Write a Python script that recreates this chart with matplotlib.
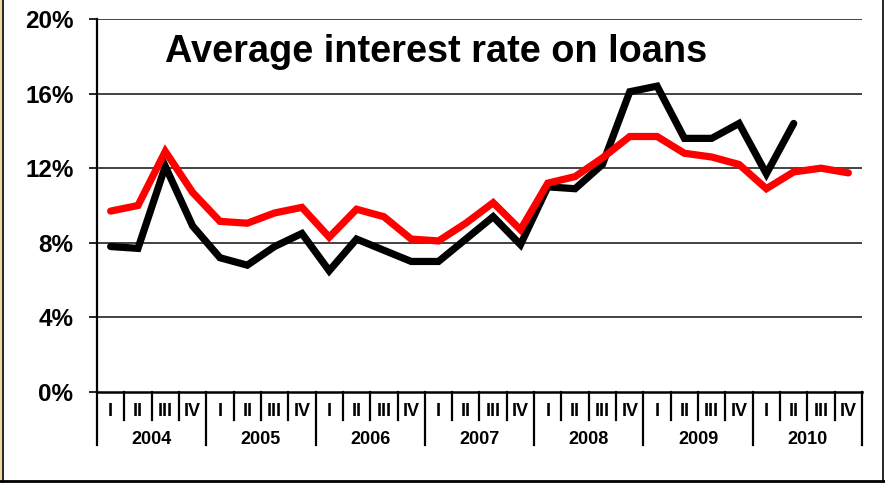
import matplotlib
matplotlib.use("Agg")
import matplotlib.pyplot as plt
import matplotlib.transforms as mtransforms
from matplotlib.lines import Line2D
from matplotlib.patches import Rectangle

plt.rcParams['font.family'] = ['Liberation Sans', 'DejaVu Sans']
plt.rcParams['font.weight'] = 'bold'

# quarterly data, 2004 I .. 2010 IV
years = ['2004', '2005', '2006', '2007', '2008', '2009', '2010']
quarters = ['I', 'II', 'III', 'IV']

# black series (ends at 2010 II)
rate_black = [7.8, 7.7, 12.1, 8.9,
              7.2, 6.8, 7.8, 8.5,
              6.5, 8.2, 7.6, 7.0,
              7.0, 8.2, 9.4, 7.9,
              11.0, 10.9, 12.2, 16.1,
              16.4, 13.6, 13.6, 14.4,
              11.7, 14.4]
# red series
rate_red = [9.7, 10.0, 12.9, 10.7,
            9.15, 9.05, 9.6, 9.9,
            8.3, 9.8, 9.4, 8.2,
            8.1, 9.05, 10.15, 8.7,
            11.2, 11.55, 12.55, 13.7,
            13.7, 12.8, 12.6, 12.2,
            10.9, 11.8, 12.0, 11.75]

yticks = [0, 4, 8, 12, 16, 20]

fig = plt.figure(figsize=(8.85, 4.83), dpi=100)
ax = fig.add_axes([97 / 885, 1 - 392 / 483, (862 - 97) / 885, (392 - 19) / 483])

n = len(years) * len(quarters)
ax.set_xlim(-0.5, n - 0.5)
ax.set_ylim(0, 20)

for y in yticks[1:]:
    ax.axhline(y, color='#222222', lw=1.2, zorder=1)

ax.plot(range(len(rate_black)), rate_black, color='black', lw=5.2,
        solid_joinstyle='miter', solid_capstyle='round', zorder=3)
ax.plot(range(len(rate_red)), rate_red, color='#ff0000', lw=5.2,
        solid_joinstyle='miter', solid_capstyle='round', zorder=4)

for s in ['top', 'right']:
    ax.spines[s].set_visible(False)
ax.spines['left'].set_linewidth(1.6)
ax.spines['bottom'].set_linewidth(1.8)

ax.set_yticks(yticks)
ax.set_yticklabels([f'{v}%' for v in yticks], fontsize=17.5, fontweight='bold')
ax.tick_params(axis='y', direction='out', length=6, width=1.2, pad=11)
ax.set_xticks([])

# quarter and year labels under the axis
trans = mtransforms.blended_transform_factory(ax.transData, ax.transAxes)
q_low = -28 / 373
y_low = -53 / 373
for k in range(n + 1):
    x = k - 0.5
    bottom = y_low if k % 4 == 0 else q_low
    ax.add_line(Line2D([x, x], [0, bottom], transform=trans, color='black',
                       lw=1.6, clip_on=False))
for i in range(n):
    ax.text(i, -19.5 / 373, quarters[i % 4], transform=trans, ha='center',
            va='center', fontsize=13, fontweight='bold')
for j, yr in enumerate(years):
    ax.text(j * 4 + 1.5, -47 / 373, yr, transform=trans, ha='center',
            va='center', fontsize=13, fontweight='bold')

fig.text(165 / 885, 1 - 62 / 483, 'Average interest rate on loans',
         ha='left', va='baseline', fontsize=27.3, fontweight='bold')

# frame around the figure
fig.add_artist(Rectangle((0, 0), 2 / 885, 1, transform=fig.transFigure,
                         color='#eedc9a', lw=0))
fig.add_artist(Line2D([2.5 / 885, 2.5 / 885], [0, 1], transform=fig.transFigure,
                      color='black', lw=1.2))
fig.add_artist(Line2D([883 / 885, 883 / 885], [0, 1], transform=fig.transFigure,
                      color='black', lw=1.2))
fig.add_artist(Line2D([0, 1], [2 / 483, 2 / 483], transform=fig.transFigure,
                      color='black', lw=2))

fig.savefig('out.png', dpi=100)
